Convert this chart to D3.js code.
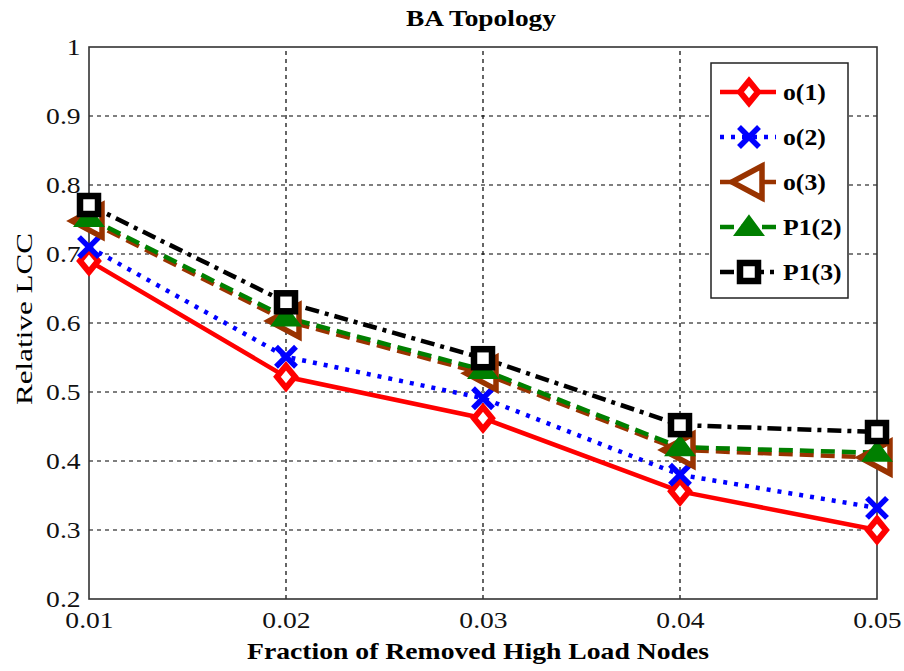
<!DOCTYPE html>
<html>
<head>
<meta charset="utf-8">
<script src="https://cdn.jsdelivr.net/npm/d3@7"></script>
<style>
  body { margin: 0; background: #fff; }
  text { font-family: "Liberation Serif", "Times New Roman", serif; }
</style>
</head>
<body>
<div id="chart"></div>
<script>
var fractions = [0.01, 0.02, 0.03, 0.04, 0.05];
var o1 = [0.69, 0.522, 0.462, 0.356, 0.300];
var o2 = [0.710, 0.551, 0.491, 0.380, 0.332];
var o3 = [0.748, 0.603, 0.527, 0.416, 0.405];
var p12 = [0.752, 0.608, 0.532, 0.420, 0.412];
var p13 = [0.771, 0.630, 0.549, 0.452, 0.442];
var seriesNames = ["o(1)", "o(2)", "o(3)", "P1(2)", "P1(3)"];
var xTicks = [0.01, 0.02, 0.03, 0.04, 0.05];
var yTicks = [0.2, 0.3, 0.4, 0.5, 0.6, 0.7, 0.8, 0.9, 1];

var width = 904, height = 671;
var margin = {left: 89, right: 27, top: 47, bottom: 72};
var stretch = 1.2; // the reference text is drawn a bit wide

var svg = d3.select("#chart").append("svg")
  .attr("width", width)
  .attr("height", height);

var x = d3.scaleLinear().domain([0.01, 0.05]).range([margin.left, width - margin.right]);
var y = d3.scaleLinear().domain([0.2, 1]).range([height - margin.bottom, margin.top]);

// grid
svg.append("g").selectAll("line")
  .data(yTicks.slice(1, -1))
  .enter().append("line")
  .attr("x1", x(0.01)).attr("x2", x(0.05))
  .attr("y1", function(d){return y(d);}).attr("y2", function(d){return y(d);})
  .attr("stroke", "#000").attr("stroke-width", 1.2).attr("stroke-dasharray", "4,4");

svg.append("g").selectAll("line")
  .data(xTicks.slice(1, -1))
  .enter().append("line")
  .attr("x1", function(d){return x(d);}).attr("x2", function(d){return x(d);})
  .attr("y1", y(0.2)).attr("y2", y(1))
  .attr("stroke", "#000").attr("stroke-width", 1.2).attr("stroke-dasharray", "4,4");

// axes
var xAxis = d3.axisBottom(x).tickValues(xTicks).tickSize(0).tickPadding(9)
  .tickFormat(d3.format(".2f"));
var yAxis = d3.axisLeft(y).tickValues(yTicks).tickSize(0).tickPadding(7)
  .tickFormat(function(d){ return d === 1 ? "1" : d3.format(".1f")(d); });

var gx = svg.append("g").attr("transform", "translate(0," + y(0.2) + ")").call(xAxis);
var gy = svg.append("g").attr("transform", "translate(" + x(0.01) + ",0)").call(yAxis);
[gx, gy].forEach(function(g){
  g.attr("font-family", null).attr("font-size", null);
  g.select(".domain").remove();
  g.selectAll("text")
    .style("font-family", "'Liberation Serif', 'Times New Roman', serif")
    .style("font-size", "23px")
    .attr("fill", "#111")
    .attr("transform", "scale(" + stretch + ",1)");
});
gx.selectAll("text").attr("dy", "0.85em");

// frame
svg.append("rect")
  .attr("x", x(0.01)).attr("y", y(1))
  .attr("width", x(0.05) - x(0.01)).attr("height", y(0.2) - y(1))
  .attr("fill", "none").attr("stroke", "#333").attr("stroke-width", 1.6);

// titles
svg.append("text")
  .attr("x", 481).attr("y", 26)
  .attr("text-anchor", "middle").attr("font-size", 23).attr("font-weight", "bold")
  .attr("textLength", 150).attr("lengthAdjust", "spacingAndGlyphs")
  .text("BA Topology");

svg.append("text")
  .attr("x", 478).attr("y", 659)
  .attr("text-anchor", "middle").attr("font-size", 23).attr("font-weight", "bold")
  .attr("textLength", 462).attr("lengthAdjust", "spacingAndGlyphs")
  .text("Fraction of Removed High Load Nodes");

svg.append("text")
  .attr("transform", "translate(32,319) rotate(-90)")
  .attr("text-anchor", "middle").attr("font-size", 23)
  .attr("textLength", 172).attr("lengthAdjust", "spacingAndGlyphs")
  .text("Relative LCC");

// series
var series = [
  {name: seriesNames[0], values: o1, color: "#ff0000", dash: null, marker: "diamond"},
  {name: seriesNames[1], values: o2, color: "#0000ff", dash: "4,7", marker: "x"},
  {name: seriesNames[2], values: o3, color: "#993300", dash: "14,7", marker: "triLeft"},
  {name: seriesNames[3], values: p12, color: "#007f00", dash: "14,7", marker: "triUp"},
  {name: seriesNames[4], values: p13, color: "#000000", dash: "14,6,4,6", marker: "square"}
];

var line = d3.line()
  .x(function(d, i){ return x(fractions[i]); })
  .y(function(d){ return y(d); });

function drawMarker(g, type, color) {
  if (type === "diamond") {
    g.append("path").attr("d", "M0,-11L9,0L0,11L-9,0Z")
      .attr("fill", "#fff").attr("stroke", color).attr("stroke-width", 6);
  } else if (type === "x") {
    g.append("path").attr("d", "M-10,-10L10,10M-10,10L10,-10")
      .attr("stroke", color).attr("stroke-width", 5.5);
  } else if (type === "triLeft") {
    g.append("path").attr("d", "M-17,0L13,-16L13,16Z")
      .attr("fill", "#fff").attr("stroke", color).attr("stroke-width", 5.5)
      .attr("stroke-linejoin", "miter");
  } else if (type === "triUp") {
    g.append("path").attr("d", "M0,-11L14,8L-14,8Z")
      .attr("fill", color).attr("stroke", color).attr("stroke-width", 2);
  } else if (type === "square") {
    g.append("rect").attr("x", -9).attr("y", -9).attr("width", 18).attr("height", 18)
      .attr("fill", "#fff").attr("stroke", color).attr("stroke-width", 6.5);
  }
}

series.forEach(function(s){
  svg.append("path")
    .datum(s.values)
    .attr("d", line)
    .attr("fill", "none")
    .attr("stroke", s.color)
    .attr("stroke-width", 4.5)
    .attr("stroke-dasharray", s.dash);
});

series.forEach(function(s){
  svg.append("g").selectAll("g")
    .data(s.values)
    .enter().append("g")
    .attr("transform", function(d, i){ return "translate(" + x(fractions[i]) + "," + y(d) + ")"; })
    .each(function(){ drawMarker(d3.select(this), s.marker, s.color); });
});

// legend
var legend = svg.append("g").attr("transform", "translate(711,63)");
legend.append("rect")
  .attr("width", 137).attr("height", 235)
  .attr("fill", "#fff").attr("stroke", "#222").attr("stroke-width", 1.5);

var item = legend.selectAll(".item")
  .data(series)
  .enter().append("g")
  .attr("class", "item")
  .attr("transform", function(d, i){ return "translate(0," + (29 + i * 45) + ")"; });

item.append("line")
  .attr("x1", 9).attr("x2", 65)
  .attr("stroke", function(d){ return d.color; })
  .attr("stroke-width", 4.5)
  .attr("stroke-dasharray", function(d){ return d.dash; });

item.append("g")
  .attr("transform", "translate(38,0)")
  .each(function(d){ drawMarker(d3.select(this), d.marker, d.color); });

item.append("text")
  .attr("transform", "translate(72,0) scale(1.12,1)")
  .attr("dy", "0.35em")
  .attr("font-size", 23).attr("font-weight", "bold")
  .text(function(d){ return d.name; });
</script>
</body>
</html>
